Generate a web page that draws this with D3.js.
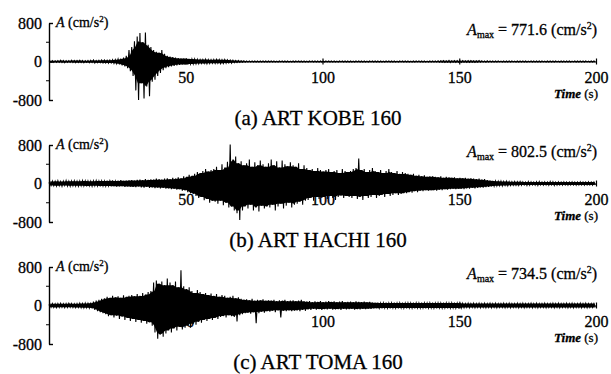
<!DOCTYPE html>
<html>
<head>
<meta charset="utf-8">
<script src="https://cdn.jsdelivr.net/npm/d3@7"></script>
<style>
  body { margin: 0; background: #fff; }
  svg { display: block; }
  text { font-family: "Liberation Serif", "DejaVu Serif", serif; fill: #000; stroke: #000; stroke-width: 0.3px; }
</style>
</head>
<body>
<div id="chart"></div>
<script>
// time axis (s) and acceleration axis (cm/s^2)
const tMax = 200;
const xTicks = [50, 100, 150, 200];
const yTicks = [-800, 0, 800];
const yMinor = [-400, 400];

const titles = ["(a) ART KOBE 160", "(b) ART HACHI 160", "(c) ART TOMA 160"];
const amax = ["771.6", "802.5", "734.5"];

// per-second upper / lower excursions (cm/s^2)
const kobeHi = [
  15,20,15,20,25,20,15,20,25,20,20,25,20,15,20,25,30,20,25,30,
  30,25,30,35,40,50,60,80,120,240,300,420,520,590,400,600,350,300,240,200,
  180,240,160,120,100,90,80,70,60,60,60,55,50,50,45,40,40,45,40,35,
  40,45,40,35,40,35,30,25,20,20,15,15,12,12,12,10,10,10,10,10,
  10,12,10,8,10,12,10,10,8,10,10,12,10,10,8,10,10,12,10,10,
  8,10,10,12,10,8,10,10,12,10,10,8,10,12,10,10,8,10,10,12,
  10,10,8,10,12,10,10,8,10,10,12,10,8,10,10,12,10,10,8,10,
  12,10,14,16,18,15,20,16,18,20,15,18,16,20,18,15,16,18,14,12,
  15,12,10,12,10,8,10,10,12,10,8,10,10,12,10,8,10,10,12,10,
  10,8,10,12,10,10,8,10,10,12,10,8,10,10,12,10,10,8,10,10
];
const kobeLo = [
  -15,-20,-20,-15,-20,-25,-20,-15,-20,-25,-20,-20,-25,-20,-25,-20,-30,-25,-25,-30,
  -30,-35,-30,-40,-45,-60,-80,-100,-140,-200,-300,-600,-800,-450,-770,-520,-720,-420,-380,-300,
  -240,-180,-140,-120,-100,-90,-80,-70,-60,-60,-60,-55,-50,-50,-45,-40,-40,-45,-40,-35,
  -40,-35,-45,-40,-35,-30,-35,-25,-20,-20,-15,-15,-12,-12,-10,-10,-12,-10,-10,-10,
  -10,-10,-12,-10,-8,-10,-10,-12,-10,-10,-8,-10,-12,-10,-10,-8,-10,-10,-12,-10,
  -10,-8,-10,-12,-10,-10,-8,-10,-10,-12,-10,-10,-8,-10,-12,-10,-10,-8,-10,-10,
  -12,-10,-10,-8,-10,-10,-12,-10,-8,-10,-10,-12,-10,-10,-8,-10,-10,-12,-10,-10,
  -10,-12,-14,-15,-18,-16,-20,-15,-18,-16,-20,-15,-18,-16,-15,-18,-14,-16,-12,-14,
  -12,-10,-12,-10,-8,-10,-12,-10,-10,-8,-10,-10,-12,-10,-10,-8,-10,-12,-10,-10,
  -8,-10,-10,-12,-10,-8,-10,-10,-12,-10,-10,-8,-10,-10,-12,-10,-8,-10,-10,-10
];

const hachiHi = [
  40,50,45,55,40,50,60,45,50,55,45,50,60,55,50,45,55,60,50,55,
  50,60,55,65,50,60,70,55,60,65,70,60,75,80,70,90,75,85,80,100,
  90,80,100,110,90,120,100,130,110,150,140,180,160,200,240,220,260,300,250,280,
  300,350,280,400,330,450,810,500,560,420,460,380,420,500,350,440,380,480,400,350,
  420,500,380,460,330,480,400,360,440,380,350,420,300,380,320,280,300,260,320,280,
  250,280,300,240,260,280,220,300,260,240,260,300,320,520,280,300,240,280,320,260,
  240,280,220,260,300,240,220,260,200,240,220,200,180,200,160,180,150,170,140,150,
  150,140,130,150,120,140,130,120,130,110,120,110,120,100,110,100,90,100,80,90,
  70,60,55,50,45,50,40,45,40,35,40,35,40,35,30,40,35,30,35,40,
  30,35,30,40,35,30,35,30,35,30,30,35,30,30,35,30,30,35,30,30
];
const hachiLo = [
  -40,-45,-50,-45,-55,-40,-50,-55,-45,-50,-55,-45,-50,-60,-50,-55,-45,-50,-60,-50,
  -55,-50,-60,-55,-65,-60,-55,-70,-60,-65,-70,-75,-60,-80,-85,-70,-90,-80,-95,-85,
  -100,-90,-110,-100,-120,-110,-130,-120,-150,-140,-180,-200,-220,-260,-300,-280,-350,-320,-400,-360,
  -380,-420,-360,-450,-400,-500,-480,-560,-620,-760,-560,-480,-520,-440,-560,-500,-580,-460,-520,-480,
  -500,-440,-560,-480,-420,-520,-460,-400,-500,-440,-420,-380,-440,-360,-340,-300,-360,-280,-320,-300,
  -280,-320,-260,-300,-340,-280,-250,-300,-260,-280,-300,-260,-320,-280,-340,-260,-300,-280,-240,-300,
  -260,-240,-280,-220,-260,-240,-200,-240,-220,-200,-200,-180,-190,-160,-180,-150,-160,-140,-150,-140,
  -140,-150,-130,-140,-120,-130,-120,-110,-120,-110,-110,-120,-100,-110,-90,-100,-90,-80,-85,-75,
  -70,-60,-55,-50,-45,-50,-40,-45,-40,-35,-35,-40,-35,-30,-40,-35,-30,-35,-40,-30,
  -35,-30,-35,-30,-40,-35,-30,-35,-30,-35,-30,-30,-35,-30,-30,-35,-30,-30,-35,-30
];

const tomaHi = [
  35,40,35,40,45,35,40,45,40,35,40,45,40,50,45,60,80,100,120,140,
  150,180,160,200,170,190,160,210,180,200,220,190,240,200,260,230,280,300,480,520,
  450,500,420,560,480,420,500,380,730,400,340,380,300,260,320,280,240,260,220,250,
  200,240,180,220,200,160,180,200,150,170,140,120,130,110,140,100,120,110,130,100,
  110,100,120,90,110,100,120,90,100,110,90,100,120,90,80,90,70,85,75,90,
  70,80,90,75,85,70,80,90,70,75,80,70,85,75,70,80,65,75,60,55,
  60,50,55,60,50,55,60,50,55,60,50,55,50,60,55,50,60,55,50,55,
  60,50,55,50,60,55,50,55,60,50,55,45,40,45,40,45,40,45,40,45,
  40,45,40,45,40,40,45,40,45,40,40,45,40,45,40,40,45,40,45,40,
  40,45,40,40,45,40,45,40,40,45,40,45,40,40,45,40,45,40,40,40
];
const tomaLo = [
  -35,-40,-45,-40,-35,-45,-40,-35,-40,-45,-40,-45,-50,-45,-50,-60,-90,-120,-140,-160,
  -180,-220,-200,-250,-210,-280,-230,-300,-260,-320,-280,-340,-300,-360,-320,-380,-350,-420,-560,-690,
  -600,-650,-580,-520,-560,-480,-520,-440,-500,-460,-420,-460,-380,-400,-340,-360,-300,-320,-280,-300,
  -260,-280,-240,-220,-250,-200,-220,-240,-330,-200,-180,-160,-150,-170,-140,-370,-160,-130,-150,-120,
  -130,-110,-140,-100,-250,-110,-120,-100,-120,-110,-100,-120,-90,-110,-80,-90,-70,-85,-75,-90,
  -75,-80,-70,-85,-80,-75,-90,-70,-80,-75,-70,-85,-75,-80,-70,-75,-65,-70,-60,-55,
  -55,-60,-50,-55,-60,-50,-55,-60,-50,-55,-60,-50,-55,-60,-50,-55,-50,-60,-55,-50,
  -55,-60,-50,-55,-50,-60,-55,-50,-55,-60,-50,-45,-40,-45,-40,-45,-40,-45,-40,-45,
  -40,-45,-40,-45,-40,-40,-45,-40,-45,-40,-40,-45,-40,-45,-40,-40,-45,-40,-45,-40,
  -40,-45,-40,-40,-45,-40,-45,-40,-40,-45,-40,-45,-40,-40,-45,-40,-45,-40,-40,-40
];

const records = [
  { hi: kobeHi, lo: kobeLo },
  { hi: hachiHi, lo: hachiLo },
  { hi: tomaHi, lo: tomaLo }
];

const width = 611;
const height = 374;
const panelTops = [23, 145, 267];
const panelH = 77;
const serif = "'Liberation Serif', 'DejaVu Serif', serif";

const svg = d3.select("#chart")
  .append("svg")
  .attr("width", width)
  .attr("height", height)
  .attr("font-family", serif);

const x = d3.scaleLinear()
  .domain([0, tMax])
  .range([49, 596]);

// smallest excursion among neighbouring seconds, so the filled core stays
// under the spikes and the spikes stick out as needles
function core(arr, pick) {
  return arr.map((v, i) => pick(arr.slice(Math.max(0, i - 1), i + 2), Math.abs) * Math.sign(v));
}

records.forEach((rec, k) => {
  const top = panelTops[k];
  const y = d3.scaleLinear()
    .domain([-800, 800])
    .range([top + panelH, top]);
  const y0 = y(0);

  const g = svg.append("g");

  // zigzag between the upper and lower excursion of each second
  const pts = [[0, 0]];
  rec.hi.forEach((v, i) => {
    pts.push([i + 0.25, v]);
    pts.push([i + 0.75, rec.lo[i]]);
  });

  // x axis on the zero line
  const xa = g.append("g")
    .attr("transform", `translate(0,${y0})`)
    .call(d3.axisBottom(x).tickValues(xTicks).tickSizeOuter(0));
  xa.attr("font-family", serif);
  xa.select(".domain").attr("stroke-width", 1.2);
  xa.selectAll(".tick line").attr("y1", -3).attr("y2", 3).attr("stroke-width", 1.2);
  xa.selectAll(".tick text")
    .attr("y", 21).attr("dy", 0)
    .attr("font-size", 16);

  // filled core underneath, needle line on top
  const hiCore = core(rec.hi, d3.min);
  const loCore = core(rec.lo, d3.min);
  const band = d3.area()
    .x((d, i) => x(i + 0.5))
    .y0((d, i) => y(loCore[i]))
    .y1(d => y(d));

  g.append("path")
    .datum(hiCore)
    .attr("fill", "#000")
    .attr("d", band);

  const line = d3.line()
    .x(d => x(d[0]))
    .y(d => y(d[1]));

  g.append("path")
    .datum(pts)
    .attr("fill", "none")
    .attr("stroke", "#000")
    .attr("stroke-width", 1.1)
    .attr("d", line);

  // y axis
  const ya = g.append("g")
    .attr("transform", `translate(${x(0)},0)`)
    .call(d3.axisLeft(y).tickValues(yTicks).tickFormat(d => String(d))
      .tickSizeInner(-4).tickSizeOuter(0).tickPadding(7));
  ya.attr("font-family", serif);
  ya.select(".domain").attr("stroke-width", 1.4);
  ya.selectAll(".tick line").attr("stroke-width", 1.4);
  ya.selectAll(".tick text").attr("font-size", 16);

  g.selectAll(".minor")
    .data(yMinor)
    .enter()
    .append("line")
    .attr("class", "minor")
    .attr("x1", x(0) - 3).attr("x2", x(0))
    .attr("y1", d => y(d)).attr("y2", d => y(d))
    .attr("stroke", "#000")
    .attr("stroke-width", 1);

  // unit label
  const ul = g.append("text")
    .attr("x", x(0) + 7)
    .attr("y", y(800) + 4)
    .attr("font-size", 14);
  ul.append("tspan").attr("font-style", "italic").text("A");
  ul.append("tspan").text(" (cm/s");
  ul.append("tspan").attr("dy", -5).attr("font-size", 9).text("2");
  ul.append("tspan").attr("dy", 5).text(")");

  // peak value
  const pk = g.append("text")
    .attr("x", 597)
    .attr("y", y0 - 27)
    .attr("text-anchor", "end")
    .attr("font-size", 16);
  pk.append("tspan").attr("font-style", "italic").text("A");
  pk.append("tspan").attr("dy", 3).attr("font-size", 10).text("max");
  pk.append("tspan").attr("dy", -3).text(" = " + amax[k] + " (cm/s");
  pk.append("tspan").attr("dy", -6).attr("font-size", 10).text("2");
  pk.append("tspan").attr("dy", 6).text(")");

  // time label
  const tl = g.append("text")
    .attr("x", 598)
    .attr("y", y0 + 36)
    .attr("text-anchor", "end")
    .attr("font-size", 13);
  tl.append("tspan").attr("font-style", "italic").attr("font-weight", "bold").text("Time");
  tl.append("tspan").text(" (s)");

  // caption
  g.append("text")
    .attr("x", 318)
    .attr("y", y0 + 63)
    .attr("text-anchor", "middle")
    .attr("font-size", 21)
    .text(titles[k]);
});
</script>
</body>
</html>
